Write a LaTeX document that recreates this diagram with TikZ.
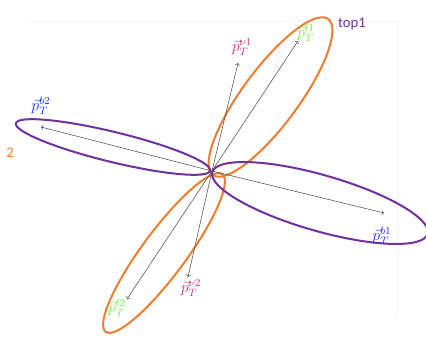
\documentclass[tikz,border=0pt]{standalone}
\usepackage{fontspec}
\newfontfamily\tagfont{Carlito}
\definecolor{toporange}{RGB}{237,125,49}
\definecolor{toppurple}{RGB}{112,48,160}
\definecolor{lepgreen}{RGB}{110,250,70}
\definecolor{numag}{RGB}{205,50,130}
\definecolor{bblue}{RGB}{30,50,255}
\begin{document}
\begin{tikzpicture}[x=0.75pt,y=-0.75pt,every node/.style={font=\large},
  lobe/.style={line width=1.5pt},
  mom/.style={->,black!70,line width=0.4pt},
  tag/.style={font=\tagfont\fontsize{11}{13}\selectfont}]
\useasboundingbox (0,0) rectangle (426,339);
% faint frame
\draw[black!4] (29,21) -- (397,21) -- (397,318);
% lobes
\draw[lobe,toporange,rotate around={53.5:(270.5,97)}] (270.5,97) ellipse [x radius=97,y radius=28];
\draw[lobe,toporange,rotate around={53.5:(164,253)}] (164,253) ellipse [x radius=98,y radius=22];
\draw[lobe,toppurple,rotate around={-13.7:(113,147)}] (113,147) ellipse [x radius=100,y radius=15];
\draw[lobe,toppurple,rotate around={-16:(320,203)}] (320,203) ellipse [x radius=112,y radius=28];
% momenta
\coordinate (O) at (212,171);
\coordinate (l1) at (298,41);
\coordinate (nu1) at (238,63);
\coordinate (b2) at (41,127);
\coordinate (b1) at (384,213);
\coordinate (l2) at (127,299);
\coordinate (nu2) at (188,277);
\foreach \e in {l1,nu1,b2,b1,l2,nu2} \draw[mom] (O) -- (\e);
\node[lepgreen] (lab l1) at (306,33) {$\vec{p}_T^{l1}$};
\node[numag] (lab nu1) at (242,47) {$\vec{p}_T^{\nu1}$};
\node[bblue] (lab b2) at (41,106) {$\vec{p}_T^{b2}$};
\node[bblue] (lab b1) at (382,236) {$\vec{p}_T^{b1}$};
\node[lepgreen] (lab l2) at (117,308) {$\vec{p}_T^{l2}$};
\node[numag] (lab nu2) at (191,288) {$\vec{p}_T^{\nu2}$};
% top tags
\node[tag,toppurple] (top1) at (352,24) {top1};
\node[tag,toporange] (top2) at (10,153) {2};
\end{tikzpicture}
\end{document}
